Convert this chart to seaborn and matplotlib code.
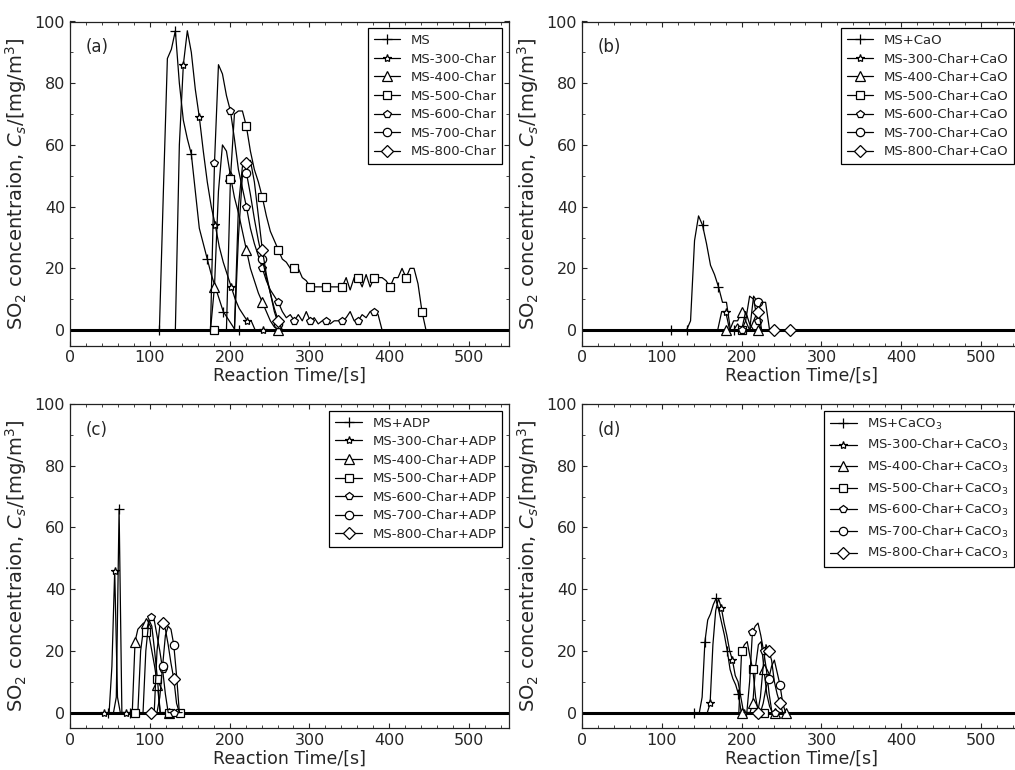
import numpy as np
import matplotlib
matplotlib.use("Agg")
import matplotlib.pyplot as plt
from matplotlib.ticker import MultipleLocator
import seaborn as sns

# ---------------------------------------------------------------------------
# SO2 release curves, sampled on a regular time grid per panel.
# Each series: start time [s] and concentration values [mg/m3].
# ---------------------------------------------------------------------------
STEP_TOP = 5.0      # s, sampling interval of panels (a) and (b)
STEP_BOTTOM = 3.5   # s, sampling interval of panels (c) and (d)

# (a) raw samples
a_ms_t0 = 112
a_ms = [0, 45, 88, 91, 97, 80, 68, 62, 57, 45, 33, 28, 23, 18, 14, 10, 6, 4, 2, 0, 0]
a_300_t0 = 127
a_300 = [0, 0, 60, 86, 97, 90, 78, 69, 58, 48, 40, 34, 27, 22, 18, 14, 10, 7, 5, 3, 3, 0, 0, 0]
a_400_t0 = 171
a_400 = [0, 0, 14, 45, 60, 58, 50, 43, 38, 32, 26, 20, 16, 12, 9, 6, 3, 1, 0]
a_500_t0 = 181
a_500 = [0, 0, 0, 0, 49, 70, 71, 71, 66, 58, 52, 48, 43, 37, 32, 29, 26, 23, 22, 20,
         20, 20, 17, 16, 14, 14, 14, 14, 14, 14, 14, 14, 14, 17, 13, 17, 17, 14, 18, 14,
         17, 17, 17, 16, 14, 17, 17, 20, 17, 20, 20, 15, 6, 0, 0]
a_600_t0 = 171
a_600 = [0, 0, 54, 86, 83, 76, 71, 62, 52, 46, 40, 33, 28, 24, 20, 16, 13, 11, 9, 6,
         4, 5, 3, 5, 3, 6, 3, 4, 2, 3, 3, 2, 3, 3, 3, 4, 6, 3, 3, 5, 4, 6, 6, 5, 0, 0]
a_700_t0 = 201
a_700 = [0, 0, 30, 50, 51, 44, 36, 29, 23, 17, 12, 6, 2, 0, 0]
a_800_t0 = 201
a_800 = [0, 0, 40, 53, 54, 55, 48, 37, 26, 18, 12, 7, 3, 0, 0]

# (b) with CaO
b_ms_t0 = 111
b_ms = [0, 0, 0, 0, 0, 3, 29, 37, 34, 28, 21, 18, 14, 9, 9, 0, 0]
b_300_t0 = 170
b_300 = [0, 6, 6, 0, 0, 0, 0]
b_400_t0 = 180
b_400 = [0, 0, 3, 3, 6, 3, 0, 0, 0]
b_500_t0 = 190
b_500 = [0, 2, 0, 6, 2, 0]
b_600_t0 = 195
b_600 = [0, 0, 3, 11, 10, 3, 0]
b_700_t0 = 205
b_700 = [0, 0, 11, 9, 0, 0]
b_800_t0 = 210
b_800 = [0, 3, 6, 9, 9, 0, 0, 0, 0, 0, 0]

# (c) with ADP
c_ms_t0 = 47.5
c_ms = [0, 0, 0, 5, 66, 0, 0, 0, 0]
c_300_t0 = 42
c_300 = [0, 0, 0, 15, 46, 5, 0, 0, 0]
c_400_t0 = 78
c_400 = [0, 23, 27, 28, 29, 29, 25, 20, 15, 9, 0, 0, 0, 0]
c_500_t0 = 81.5
c_500 = [0, 0, 20, 27, 26, 30, 28, 20, 11, 0, 0, 0, 0, 0, 0, 0, 0]
c_600_t0 = 88
c_600 = [0, 0, 20, 29, 31, 30, 25, 20, 14, 6, 0, 0, 0]
c_700_t0 = 102
c_700 = [0, 0, 0, 5, 15, 25, 28, 27, 22, 12, 0, 0]
c_800_t0 = 102
c_800 = [0, 0, 20, 28, 29, 27, 22, 16, 11, 3, 0]

# (d) with CaCO3
d_ms_t0 = 140
d_ms = [0, 0, 0, 5, 23, 30, 32, 35, 37, 33, 29, 25, 20, 14, 11, 9, 6, 0, 0]
d_300_t0 = 157
d_300 = [0, 3, 22, 33, 37, 34, 29, 25, 20, 17, 12, 10, 5, 0, 0]
d_400_t0 = 200
d_400 = [0, 0, 0, 0, 3, 15, 22, 23, 14, 6, 2, 0, 0, 0, 0, 0, 0]
d_500_t0 = 196.5
d_500 = [0, 20, 22, 23, 18, 14, 5, 0, 0, 0]
d_600_t0 = 203
d_600 = [0, 0, 10, 26, 28, 29, 25, 20, 14, 6, 0, 0]
d_700_t0 = 220
d_700 = [0, 0, 3, 8, 11, 15, 17, 13, 9, 3, 0]
d_800_t0 = 220
d_800 = [0, 5, 15, 22, 20, 17, 10, 6, 3, 0, 0]

# Legend labels
labels_a = ["MS", "MS-300-Char", "MS-400-Char", "MS-500-Char",
            "MS-600-Char", "MS-700-Char", "MS-800-Char"]
labels_b = ["MS+CaO", "MS-300-Char+CaO", "MS-400-Char+CaO", "MS-500-Char+CaO",
            "MS-600-Char+CaO", "MS-700-Char+CaO", "MS-800-Char+CaO"]
labels_c = ["MS+ADP", "MS-300-Char+ADP", "MS-400-Char+ADP", "MS-500-Char+ADP",
            "MS-600-Char+ADP", "MS-700-Char+ADP", "MS-800-Char+ADP"]
labels_d = ["MS+CaCO$_3$", "MS-300-Char+CaCO$_3$", "MS-400-Char+CaCO$_3$",
            "MS-500-Char+CaCO$_3$", "MS-600-Char+CaCO$_3$", "MS-700-Char+CaCO$_3$",
            "MS-800-Char+CaCO$_3$"]

panels = [
    dict(tag="(a)", labels=labels_a, step=STEP_TOP, every=4,
         series=[(a_ms_t0, a_ms, 0), (a_300_t0, a_300, 3), (a_400_t0, a_400, 2),
                 (a_500_t0, a_500, 0), (a_600_t0, a_600, 2), (a_700_t0, a_700, 4),
                 (a_800_t0, a_800, 4)]),
    dict(tag="(b)", labels=labels_b, step=STEP_TOP, every=4,
         series=[(b_ms_t0, b_ms, 0), (b_300_t0, b_300, 2), (b_400_t0, b_400, 0),
                 (b_500_t0, b_500, 2), (b_600_t0, b_600, 1), (b_700_t0, b_700, 3),
                 (b_800_t0, b_800, 2)]),
    dict(tag="(c)", labels=labels_c, step=STEP_BOTTOM, every=4,
         series=[(c_ms_t0, c_ms, 0), (c_300_t0, c_300, 0), (c_400_t0, c_400, 1),
                 (c_500_t0, c_500, 0), (c_600_t0, c_600, 4), (c_700_t0, c_700, 4),
                 (c_800_t0, c_800, 0)]),
    dict(tag="(d)", labels=labels_d, step=STEP_BOTTOM, every=4,
         series=[(d_ms_t0, d_ms, 0), (d_300_t0, d_300, 1), (d_400_t0, d_400, 0),
                 (d_500_t0, d_500, 1), (d_600_t0, d_600, 3), (d_700_t0, d_700, 0),
                 (d_800_t0, d_800, 0)]),
]

markers = ["+", "*", "^", "s", "p", "o", "D"]
msizes = [7, 6, 6.5, 6, 6, 6, 6.5]

sns.set_style("ticks", {"xtick.direction": "in", "ytick.direction": "in",
                        "axes.edgecolor": "#222222"})
plt.rcParams["font.family"] = ["DejaVu Sans"]
plt.rcParams.update({
    "xtick.top": True, "ytick.right": True,
    "xtick.major.size": 3.5, "ytick.major.size": 3.5,
    "xtick.minor.size": 2, "ytick.minor.size": 2,
    "xtick.major.width": 0.8, "ytick.major.width": 0.8,
    "xtick.minor.width": 0.6, "ytick.minor.width": 0.6,
    "axes.linewidth": 0.9,
    "xtick.labelsize": 11.5, "ytick.labelsize": 11.5,
    "mathtext.fontset": "dejavusans",
})

W, H = 1015, 770
fig = plt.figure(figsize=(W / 100, H / 100), dpi=100)
fig.patch.set_facecolor("white")

# axes boxes in pixels: left, top, width, height
boxes = [(70, 21.5, 439, 324), (582, 21.5, 439, 324),
         (70, 404, 439, 324), (582, 404, 439, 324)]

for panel, (l, t, w, h) in zip(panels, boxes):
    ax = fig.add_axes([l / W, 1 - (t + h) / H, w / W, h / H])
    ax.axhline(0, color="k", lw=2.2, zorder=1.5)
    for i, ((t0, vals, off), lab) in enumerate(zip(panel["series"], panel["labels"])):
        times = t0 + panel["step"] * np.arange(len(vals))
        sns.lineplot(x=times, y=vals, ax=ax, color="k", lw=0.9,
                     marker=markers[i], markersize=msizes[i],
                     markerfacecolor="white", markeredgecolor="k",
                     markeredgewidth=0.9, markevery=(off, panel["every"]),
                     label=lab, estimator=None, sort=False, zorder=2)
    ax.set_xlim(0, 550)
    ax.set_ylim(-5, 100)
    ax.xaxis.set_major_locator(MultipleLocator(100))
    ax.xaxis.set_minor_locator(MultipleLocator(20))
    ax.yaxis.set_major_locator(MultipleLocator(20))
    ax.yaxis.set_minor_locator(MultipleLocator(10))
    ax.tick_params(which="both", top=True, right=True, direction="in")
    ax.set_xlabel("Reaction Time/[s]", fontsize=12.5, labelpad=1)
    ax.set_ylabel(r"SO$_2$ concentraion, $C_s$/[mg/m$^3$]", fontsize=14, labelpad=4)
    ax.text(0.036, 0.92, panel["tag"], transform=ax.transAxes, fontsize=12,
            va="center", ha="left")
    leg = ax.legend(loc="upper right", fontsize=9.5, frameon=True, fancybox=False,
                    edgecolor="k", framealpha=1, handlelength=2.0,
                    handletextpad=0.8, labelspacing=0.42, borderpad=0.45,
                    borderaxespad=0.5, numpoints=1)
    leg.get_frame().set_linewidth(0.9)

fig.savefig("out.png", dpi=100, facecolor="white")
